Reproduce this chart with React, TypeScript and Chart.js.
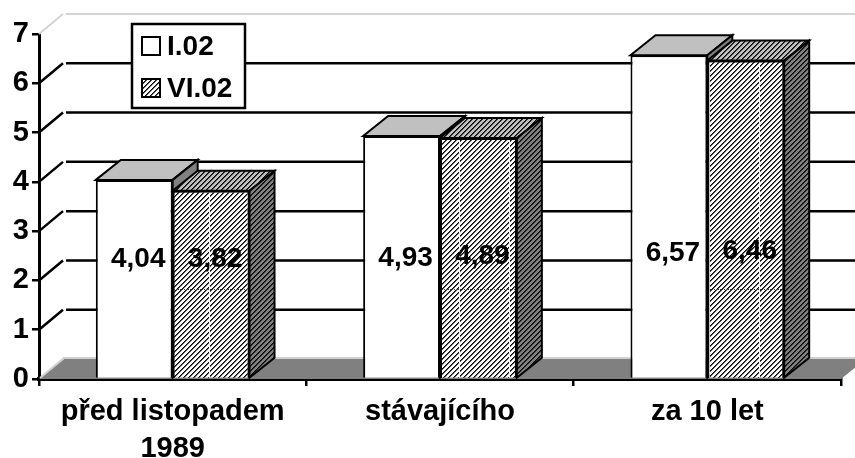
import React, { useEffect, useRef } from "react";
import { Chart, registerables } from "chart.js";

Chart.register(...registerables);

const categories = [["před listopadem", "1989"], ["stávajícího"], ["za 10 let"]];
const seriesNames = ["I.02", "VI.02"];
const seriesJan = [4.04, 4.93, 6.57];
const seriesJun = [3.82, 4.89, 6.46];
// value-axis height at which each printed value sits, by series and category
const labelHeightsJan = [2.43, 2.44, 2.56];
const labelHeightsJun = [2.43, 2.49, 2.6];
const yMax = 7;

const FONT = '"Liberation Sans", Arial, sans-serif';
const DX = 25;
const DY = -20;

function hatchPattern(bg: [number, number, number], seams: boolean) {
  const w = 50, h = 250;
  const c = document.createElement("canvas");
  c.width = w;
  c.height = h;
  const g = c.getContext("2d")!;
  const img = g.createImageData(w, h);
  for (let y = 0; y < h; y++) {
    for (let x = 0; x < w; x++) {
      const i = (y * w + x) * 4;
      const m = (x + y) % 5;
      let col: [number, number, number] =
        m === 0 ? [0, 0, 0] : m === 1 ? [bg[0] * 0.35, bg[1] * 0.35, bg[2] * 0.35] : bg;
      if (seams && x === 9) col = [255, 255, 255];
      if (seams && y === 39 && x % 2 === 0) col = [60, 60, 60];
      img.data[i] = col[0];
      img.data[i + 1] = col[1];
      img.data[i + 2] = col[2];
      img.data[i + 3] = 255;
    }
  }
  g.putImageData(img, 0, 0);
  return g.createPattern(c, "repeat")!;
}

function poly(ctx: CanvasRenderingContext2D, pts: number[][], fill: any, stroke = "#000", lw = 2.5) {
  ctx.beginPath();
  pts.forEach((p, i) => (i ? ctx.lineTo(p[0], p[1]) : ctx.moveTo(p[0], p[1])));
  ctx.closePath();
  if (fill) {
    ctx.fillStyle = fill;
    ctx.fill();
  }
  if (stroke) {
    ctx.strokeStyle = stroke;
    ctx.lineWidth = lw;
    ctx.lineJoin = "miter";
    ctx.stroke();
  }
}

export default function App() {
  const ref = useRef<HTMLCanvasElement>(null);
  useEffect(() => {
    const frontHatch = hatchPattern([255, 255, 255], true);
    const topHatch = hatchPattern([192, 192, 192], false);
    const sideHatch = hatchPattern([128, 128, 128], false);

    const walls = {
      id: "walls",
      beforeDatasetsDraw(chart: any) {
        const { ctx, chartArea: a, scales } = chart;
        const y = scales.y;
        ctx.save();
        const y0 = y.getPixelForValue(0);
        // floor
        poly(ctx, [[a.left, y0], [a.left + DX, y0 + DY], [a.right + DX, y0 + DY], [a.right, y0]], "#808080", "");
        ctx.strokeStyle = "#d0d0d0";
        ctx.lineWidth = 2;
        ctx.beginPath();
        ctx.moveTo(a.left + 1, y0 - 1);
        ctx.lineTo(a.left + DX, y0 + DY - 1);
        ctx.lineTo(a.right + DX, y0 + DY - 1);
        ctx.stroke();
        // grid on the two walls
        for (let v = 1; v <= yMax; v++) {
          const p = y.getPixelForValue(v);
          const top = v === yMax;
          ctx.strokeStyle = top ? "#d4d4d4" : "#000";
          ctx.lineWidth = top ? 2 : 2.5;
          ctx.beginPath();
          ctx.moveTo(a.left, p);
          ctx.lineTo(a.left + DX - 1, p + DY);
          ctx.moveTo(a.left + DX + 2, p + DY);
          ctx.lineTo(a.right + DX, p + DY);
          ctx.stroke();
        }
        // depth faces of the bars
        [0, 1].forEach((ds) => {
          const hatched = ds === 1;
          chart.getDatasetMeta(ds).data.forEach((el: any) => {
            const l = el.x - el.width / 2;
            const r = el.x + el.width / 2;
            const t = el.y;
            const b = el.base;
            poly(ctx, [[l, t], [l + DX, t + DY], [r + DX, t + DY], [r, t]], hatched ? topHatch : "#c0c0c0", "#000", 2);
            poly(ctx, [[r, t], [r + DX, t + DY], [r + DX, b + DY], [r, b]], hatched ? sideHatch : "#808080", "#000", 2);
          });
        });
        ctx.restore();
      },
      afterDatasetsDraw(chart: any) {
        const { ctx, scales } = chart;
        ctx.save();
        ctx.fillStyle = "#000";
        ctx.font = `bold 28px ${FONT}`;
        ctx.textAlign = "center";
        ctx.textBaseline = "middle";
        const heights = [labelHeightsJan, labelHeightsJun];
        [0, 1].forEach((ds) => {
          chart.getDatasetMeta(ds).data.forEach((el: any, i: number) => {
            const txt = chart.data.datasets[ds].data[i].toFixed(2).replace(".", ",");
            ctx.fillText(txt, el.x + 4, scales.y.getPixelForValue(heights[ds][i]));
          });
        });
        // legend
        ctx.fillStyle = "#fff";
        ctx.strokeStyle = "#000";
        ctx.lineWidth = 2.5;
        ctx.fillRect(132, 24, 113, 84);
        ctx.strokeRect(132, 24, 113, 84);
        ctx.font = `bold 28px ${FONT}`;
        ctx.textAlign = "left";
        [0, 1].forEach((i) => {
          const cy = i === 0 ? 46 : 88;
          ctx.lineWidth = 2;
          ctx.fillStyle = i === 0 ? "#fff" : frontHatch;
          ctx.fillRect(142, cy - 9, 18, 18);
          ctx.strokeRect(142, cy - 9, 18, 18);
          ctx.fillStyle = "#000";
          ctx.fillText(seriesNames[i], 167, cy + 1);
        });
        ctx.restore();
      },
    };

    const chart = new Chart(ref.current!, {
      type: "bar",
      data: {
        labels: categories as any,
        datasets: [
          { label: seriesNames[0], data: seriesJan, backgroundColor: "#fff", borderColor: "#000", borderWidth: 2 },
          { label: seriesNames[1], data: seriesJun, backgroundColor: frontHatch as any, borderColor: "#000", borderWidth: 2 },
        ],
      },
      options: {
        animation: false,
        responsive: false,
        devicePixelRatio: 1,
        layout: { padding: { top: 34, right: 14, left: 0, bottom: 0 } },
        plugins: { legend: { display: false }, tooltip: { enabled: false } },
        datasets: { bar: { categoryPercentage: 0.575, barPercentage: 1 } },
        scales: {
          x: {
            offset: true,
            afterFit: (s: any) => { s.height = 79; },
            grid: { drawOnChartArea: false, color: "#000", tickColor: "#000", tickLength: 7, lineWidth: 2.5, offset: true },
            border: { color: "#000", width: 4 },
            ticks: {
              color: "#000",
              autoSkip: false,
              maxRotation: 0,
              padding: 8,
              font: { family: FONT, weight: "bold", size: 29, lineHeight: 1.27 },
            },
          },
          y: {
            min: 0,
            max: yMax,
            afterFit: (s: any) => { s.width = 39; },
            grid: { drawOnChartArea: false, color: "#000", tickColor: "#000", tickLength: 7, lineWidth: 2.5 },
            border: { color: "#000", width: 3 },
            ticks: {
              stepSize: 1,
              color: "#000",
              padding: 3,
              font: { family: FONT, weight: "bold", size: 29 },
            },
          },
        },
      } as any,
      plugins: [walls as any],
    });
    return () => chart.destroy();
  }, []);
  return (
    <div style={{ position: "fixed", left: 0, top: 0, width: 855, height: 458, background: "#fff" }}>
      <canvas ref={ref} width={855} height={458} style={{ display: "block" }} />
    </div>
  );
}
